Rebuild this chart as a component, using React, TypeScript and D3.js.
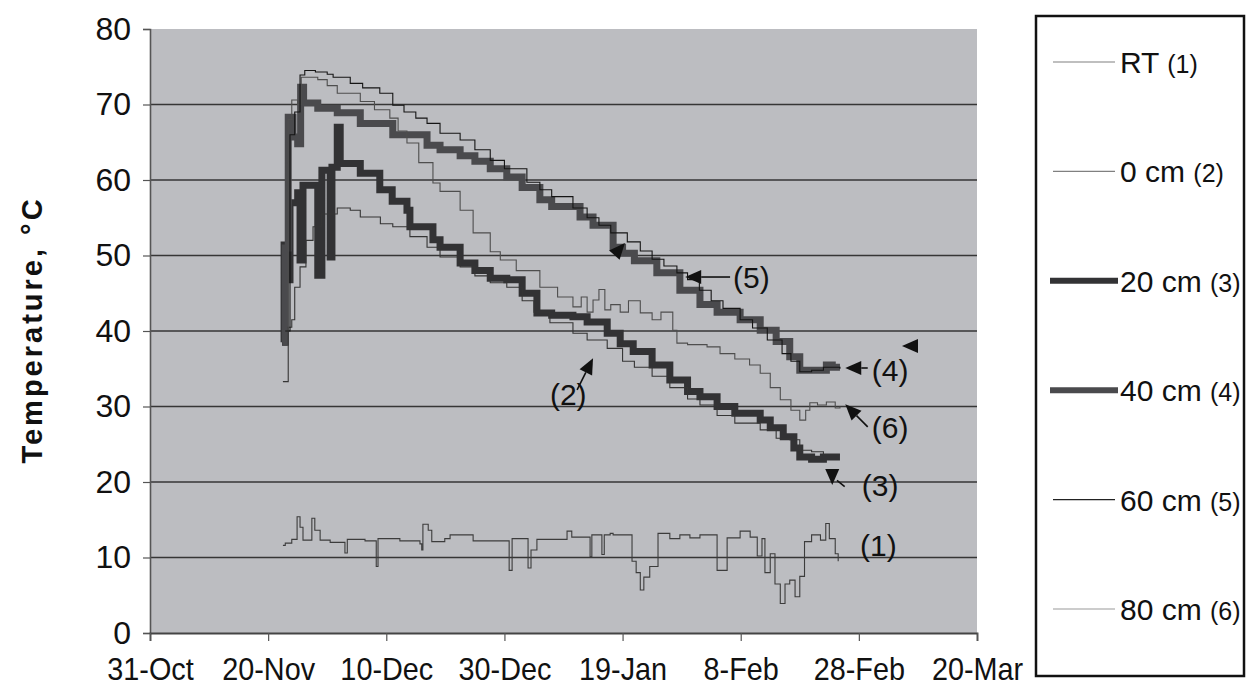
import { useEffect, useRef } from "react";
import * as d3 from "d3";

// ---- data (day offsets from 31-Oct, temperature °C) ----
const X_TICK_DAYS = [0, 20, 40, 60, 80, 100, 120, 140];
const X_TICK_LABELS = ["31-Oct", "20-Nov", "10-Dec", "30-Dec", "19-Jan", "8-Feb", "28-Feb", "20-Mar"];
const Y_TICKS = [0, 10, 20, 30, 40, 50, 60, 70, 80];

const RT: [number, number][] = [
  [22.5, 11.6], [22.9, 11.9], [24, 12.4], [24.9, 15.4], [25.4, 14], [25.9, 12.3], [27.4, 15.2],
  [27.9, 13.6], [28.8, 12.3], [30.5, 12.0], [33, 10.6], [33.4, 12.4], [36.4, 12.2], [38.3, 8.8],
  [38.6, 12.5], [42.3, 12.2], [45.7, 11.8], [46, 11], [46.2, 14.4], [47.1, 13.6], [47.7, 12.1],
  [49.9, 12.5], [50.8, 13], [54.5, 13], [54.7, 12.2], [60.6, 12.2], [60.8, 8.3], [61.3, 12.5],
  [63.8, 12.5], [64, 8.6], [64.5, 11], [65.5, 12.4], [70.6, 13.5], [71.4, 12.7], [74.5, 10.1],
  [74.8, 13], [76.5, 10.4], [76.9, 13], [77.9, 13.2], [78.4, 13], [81.3, 13], [81.6, 9.5],
  [82.3, 8], [83, 5.7], [83.6, 7.4], [84.6, 8.8], [86, 13.2], [88, 12.5], [89.7, 13], [91.4, 12.6],
  [93.1, 13], [96, 8.3], [97.7, 12.6], [99.9, 13.5], [101.6, 12.7], [102.8, 10.2], [103.6, 12.5],
  [104.1, 8], [105, 10.5], [105.8, 6.5], [106.7, 3.9], [107.5, 6.5], [108.3, 7], [109.2, 4.8],
  [110, 7.5], [110.8, 12.1], [112, 13], [113.5, 12.3], [114.4, 14.5], [115, 12.5], [116, 10.5],
  [116.5, 9.5],
];

const CM0: [number, number][] = [
  [22.5, 33.3], [23.4, 40.5], [24, 41.5], [24.5, 45.8], [25.4, 48.5], [26.4, 52], [27.6, 53.8],
  [29, 55.5], [31.7, 56.3], [33.9, 56], [35.6, 55.1], [39, 54.2], [41.1, 53.8], [44, 52.5],
  [46.9, 51.1], [49.1, 49.8], [52.5, 48.5], [55, 47.3], [57.6, 46.4], [60.4, 45.8], [63, 44],
  [65, 42.5], [67.7, 41.1], [71.6, 39.7], [74, 38.8], [77.4, 37.7], [80, 36], [82, 35.2],
  [85, 34], [88, 32.5], [91, 31], [93.1, 30.2], [96, 28.8], [99, 27.8], [103.3, 26.9],
  [106, 25.8], [108.3, 25.6], [110, 24.2], [112, 24], [114, 23.6], [116.8, 23.6],
];

const CM20: [number, number][] = [
  [22.35, 38.5], [22.7, 51.4], [23.2, 46.8], [23.7, 57], [25, 58.3], [25.4, 49.4], [25.9, 59.3],
  [28.2, 59.3], [28.4, 47.4], [29.1, 61.3], [30.1, 61.3], [30.5, 49.8], [30.8, 61.7], [31.7, 67],
  [32.2, 62.2], [33.9, 62.2], [35.6, 60.9], [38.9, 58.7], [41, 57.2], [43.5, 56], [44, 53.8],
  [47.9, 52.1], [49.1, 51.1], [52.5, 49], [55, 48], [57.6, 47], [60.4, 46.8], [63, 45],
  [65.5, 42.4], [68, 42.1], [71.6, 41.9], [74, 41.2], [77.4, 39.7], [79.6, 38.3], [81.8, 37.3],
  [85, 35.5], [88, 33.5], [91, 32], [93.1, 31.3], [96, 30], [99, 29.1], [103.3, 28.2],
  [105, 27.2], [107.2, 26], [109, 24.5], [110, 23.3], [112, 23], [114, 23.3], [116.8, 23.3],
];

const CM40: [number, number][] = [
  [22.4, 38.5], [22.9, 51], [23.4, 68.3], [24.2, 65.7], [25, 64.8], [25.5, 72.3], [26, 70.2],
  [28.4, 69.5], [31.7, 68.9], [35.6, 67.5], [41.1, 66], [46.9, 64.6], [49.1, 64], [52.5, 63.2],
  [55, 62.5], [57.6, 61.5], [60.4, 60.4], [63, 59], [66, 57.4], [68, 56.5], [72.8, 55.1],
  [75, 54], [78.4, 51.1], [80, 50.3], [82, 49.3], [85.8, 47.7], [89.7, 45.4], [93.1, 43.5],
  [96, 42.5], [99.9, 41.5], [103.3, 40.1], [106, 38.6], [108.3, 36.6], [110, 34.8], [113, 34.8],
  [114.5, 35.5], [115.5, 35.2], [116.8, 35.2],
];

const CM60: [number, number][] = [
  [22.9, 40], [23.7, 66], [24.5, 69], [25.4, 73.9], [26.2, 74.5], [28, 74.3], [30, 74],
  [31, 73.6], [33.9, 72.8], [36, 72.2], [38.9, 71.5], [41.1, 69.9], [43, 69], [45, 68.2],
  [46.9, 67.5], [49.1, 66.2], [52.5, 65.3], [55, 64], [57.6, 62.6], [60, 61.5], [63.8, 59.7],
  [66, 58.7], [68, 57.8], [71.6, 56.3], [74, 55], [76, 54], [78, 53], [80.8, 51.8], [83, 50.6],
  [85, 49.5], [87, 48.6], [89.2, 47.7], [91, 46.8], [93, 45.4], [95, 44], [97, 43], [99.9, 41.5],
  [102, 40.4], [104.5, 38.8], [107, 37], [108.5, 36], [110, 34.6], [112, 34.8], [114, 35.2],
  [116.8, 35],
];

const CM80: [number, number][] = [
  [22.9, 40], [23.4, 68], [24, 70.6], [25, 70], [25.6, 73.6], [28.4, 73.3], [30, 72.5],
  [31.7, 71.5], [35.6, 70.4], [38, 69.3], [40.6, 68.2], [42, 66.5], [43.5, 64.9], [45.5, 62.3],
  [47.9, 59.6], [49.1, 58.5], [52.5, 56], [54.7, 53], [57.6, 50.5], [59.3, 49.4], [62, 48],
  [66, 45.8], [69, 44.5], [71.6, 43.2], [73, 44.5], [74, 42.5], [75, 44.1], [76, 45.5], [77, 42.8],
  [78, 43.5], [79.6, 42.5], [81, 44], [83, 42.4], [85, 41.5], [86.5, 42.5], [88.5, 40.1],
  [89.2, 38.4], [91, 38.2], [94.3, 37.9], [96.5, 37], [99, 36.3], [101.5, 35.5], [103.3, 34.4],
  [105, 32.5], [106.7, 30.9], [108.5, 29.5], [110, 28.2], [111, 29.5], [111.7, 30.5], [113, 30.2],
  [114.5, 30.6], [116, 29.8], [116.8, 30],
];

const SERIES = [
  { label: "RT", tag: "(1)", data: RT, color: "#3c3c3c", width: 1.1, legendColor: "#808080", legendWidth: 1.2, order: 2 },
  { label: "0 cm", tag: "(2)", data: CM0, color: "#353535", width: 1.1, legendColor: "#808080", legendWidth: 1.2, order: 3 },
  { label: "20 cm", tag: "(3)", data: CM20, color: "#323234", width: 7, legendColor: "#333335", legendWidth: 6, order: 0 },
  { label: "40 cm", tag: "(4)", data: CM40, color: "#4a4a4d", width: 7, legendColor: "#4a4a4d", legendWidth: 6, order: 1 },
  { label: "60 cm", tag: "(5)", data: CM60, color: "#151515", width: 1.1, legendColor: "#222222", legendWidth: 1.2, order: 5 },
  { label: "80 cm", tag: "(6)", data: CM80, color: "#4e4e4e", width: 1.1, legendColor: "#999999", legendWidth: 1.2, order: 4 },
];

// annotation anchors in data space [day, temp]
const LABELS = [
  { text: "(1)", at: [120.2, 10.2] },
  { text: "(2)", at: [67.7, 30.2] },
  { text: "(3)", at: [120.5, 18.1] },
  { text: "(4)", at: [122.2, 33.4] },
  { text: "(5)", at: [98.7, 45.7] },
  { text: "(6)", at: [122.2, 25.8] },
];
const ARROWS = [
  { from: [98.2, 47.15], tip: [90.6, 47.15], shaft: true },
  { from: [121.5, 35.1], tip: [117.7, 35.1], shaft: true },
  { from: [121.5, 27.3], tip: [117.7, 30.3], shaft: true },
  { from: [72.3, 32.2], tip: [75.0, 36.4], shaft: true },
  { from: [115.5, 21.6], tip: [115.5, 19.6], shaft: false },
  { from: [130.0, 38.0], tip: [127.3, 38.0], shaft: false },
  { from: [78.2, 49.7], tip: [80.4, 51.65], shaft: false },
];
const TAILS = [{ from: [116.3, 20.2], to: [117.6, 19.4] }];

const W = 1247;
const H = 694;
const M = { left: 150, right: 977, top: 29, bottom: 633 };
const FONT = "'Liberation Sans', Arial, Helvetica, sans-serif";
const DAY0 = Date.UTC(2006, 9, 31);
const toDate = (d: number) => new Date(DAY0 + d * 86400000);

export default function App() {
  const svgRef = useRef<SVGSVGElement>(null);

  useEffect(() => {
    if (!svgRef.current) return;
    const svg = d3.select(svgRef.current);
    svg.selectAll("*").remove();

    const x = d3.scaleUtc().domain([toDate(0), toDate(140)]).range([M.left, M.right]);
    const y = d3.scaleLinear().domain([0, 80]).range([M.bottom, M.top]);
    const px = (p: number[]) => [x(toDate(p[0])), y(p[1])];

    svg.append("rect").attr("width", W).attr("height", H).attr("fill", "#ffffff");

    // plot area
    svg.append("rect")
      .attr("x", M.left).attr("y", M.top)
      .attr("width", M.right - M.left).attr("height", M.bottom - M.top)
      .attr("fill", "#bcbdc1");

    // grid
    svg.append("g").selectAll("line")
      .data(Y_TICKS.filter((t) => t > 0 && t < 80))
      .join("line")
      .attr("x1", M.left).attr("x2", M.right)
      .attr("y1", (d) => y(d)).attr("y2", (d) => y(d))
      .attr("stroke", "#363636").attr("stroke-width", 1.4);

    // y axis
    const yAxis = svg.append("g")
      .attr("transform", `translate(${M.left},0)`)
      .call(d3.axisLeft(y).tickValues(Y_TICKS).tickSize(7).tickPadding(12).tickFormat((d) => String(d)));
    yAxis.select(".domain").attr("stroke", "#555").attr("stroke-width", 1.6);
    yAxis.selectAll(".tick line").attr("stroke", "#555").attr("stroke-width", 1.2);
    yAxis.selectAll("text")
      .attr("fill", "#111").attr("font-size", 32).attr("font-family", FONT);

    // x axis
    const xAxis = svg.append("g")
      .attr("transform", `translate(0,${M.bottom})`)
      .call(
        d3.axisBottom(x)
          .tickValues(X_TICK_DAYS.map(toDate))
          .tickSize(8)
          .tickPadding(16)
          .tickFormat((_, i) => X_TICK_LABELS[i])
      );
    xAxis.select(".domain").attr("stroke", "#444").attr("stroke-width", 1.8);
    xAxis.selectAll(".tick line").attr("stroke", "#555").attr("stroke-width", 1.2);
    xAxis.selectAll("text")
      .attr("fill", "#111").attr("font-size", 32).attr("font-family", FONT)
      .attr("transform", "scale(0.9,1)");

    // y title
    svg.append("text")
      .attr("transform", `translate(42,330) rotate(-90)`)
      .attr("text-anchor", "middle")
      .attr("font-family", FONT).attr("font-weight", "bold")
      .attr("font-size", 29).attr("letter-spacing", 3)
      .attr("fill", "#111")
      .text("Temperature, °C");

    // series
    const line = d3.line<[number, number]>()
      .x((d) => x(toDate(d[0])))
      .y((d) => y(d[1]))
      .curve(d3.curveStepAfter);

    const ordered = [...SERIES].sort((a, b) => a.order - b.order);
    svg.append("g").selectAll("path")
      .data(ordered)
      .join("path")
      .attr("d", (s) => line(s.data))
      .attr("fill", "none")
      .attr("stroke", (s) => s.color)
      .attr("stroke-width", (s) => s.width)
      .attr("stroke-linejoin", "miter")
      .attr("stroke-linecap", "butt");

    // annotations
    const ann = svg.append("g");
    LABELS.forEach((l) => {
      const [lx, ly] = px(l.at);
      ann.append("text")
        .attr("x", lx).attr("y", ly)
        .attr("font-family", FONT).attr("font-size", 30).attr("fill", "#111")
        .text(l.text);
    });
    ARROWS.forEach((a) => {
      const [fx, fy] = px(a.from);
      const [tx, ty] = px(a.tip);
      const ang = Math.atan2(ty - fy, tx - fx);
      const len = 16, half = 7;
      const bx = tx - len * Math.cos(ang), by = ty - len * Math.sin(ang);
      if (a.shaft) {
        ann.append("line")
          .attr("x1", fx).attr("y1", fy).attr("x2", bx).attr("y2", by)
          .attr("stroke", "#111").attr("stroke-width", 1.6);
      }
      const nx = -Math.sin(ang), ny = Math.cos(ang);
      ann.append("polygon")
        .attr("points", `${tx},${ty} ${bx + nx * half},${by + ny * half} ${bx - nx * half},${by - ny * half}`)
        .attr("fill", "#111");
    });
    TAILS.forEach((t) => {
      const [fx, fy] = px(t.from);
      const [tx, ty] = px(t.to);
      ann.append("line")
        .attr("x1", fx).attr("y1", fy).attr("x2", tx).attr("y2", ty)
        .attr("stroke", "#111").attr("stroke-width", 1.6);
    });

    // legend
    const lg = svg.append("g");
    lg.append("rect")
      .attr("x", 1036).attr("y", 16).attr("width", 208).attr("height", 660)
      .attr("fill", "#fff").attr("stroke", "#111").attr("stroke-width", 2.5);
    const rowY = d3.scalePoint<string>().domain(SERIES.map((s) => s.label)).range([62, 609]);
    SERIES.forEach((s) => {
      const yy = rowY(s.label) ?? 0;
      const thick = s.legendWidth > 2;
      lg.append("line")
        .attr("x1", thick ? 1050 : 1053).attr("x2", thick ? 1118 : 1115)
        .attr("y1", yy).attr("y2", yy)
        .attr("stroke", s.legendColor).attr("stroke-width", s.legendWidth);
      const t = lg.append("text")
        .attr("x", 1120).attr("y", yy + 11)
        .attr("font-family", FONT).attr("fill", "#111");
      t.append("tspan").attr("font-size", 30).text(s.label + " ");
      t.append("tspan").attr("font-size", 25).text(s.tag);
    });
  }, []);

  return (
    <div style={{ position: "fixed", left: 0, top: 0 }}>
      <svg ref={svgRef} width={W} height={H} style={{ display: "block" }} />
    </div>
  );
}
